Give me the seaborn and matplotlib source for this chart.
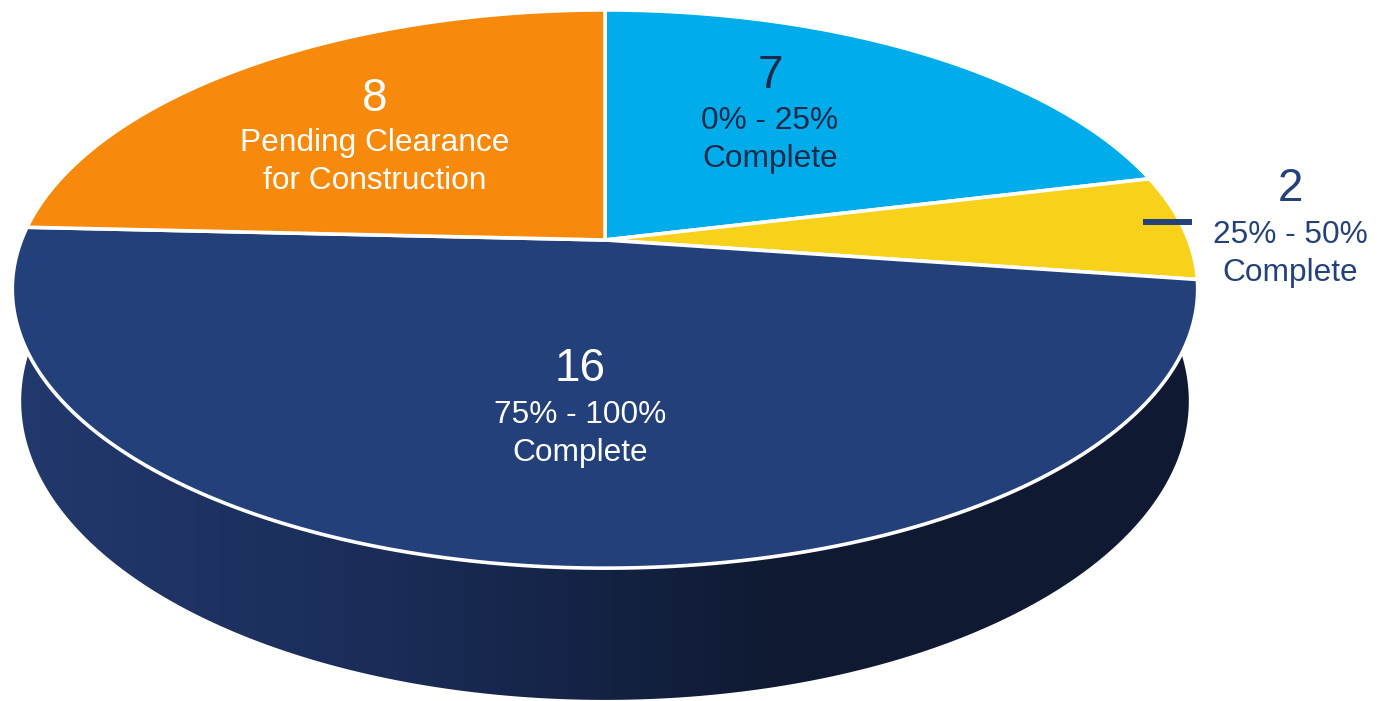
import numpy as np
import seaborn as sns
import matplotlib.pyplot as plt
from matplotlib.patches import Polygon
from matplotlib.colors import LinearSegmentedColormap

# chart data (clockwise from 12 o'clock)
counts = [7, 2, 16, 8]
status = ["0% - 25%\nComplete", "25% - 50%\nComplete",
          "75% - 100%\nComplete", "Pending Clearance\nfor Construction"]
slice_colors = ["#00adea", "#f8d11b", "#23407a", "#f7890c"]
text_colors = ["#1b2a4a", "#24417b", "white", "white"]

sns.set_theme(style="white")
plt.rcParams['font.family'] = ['Liberation Sans', 'DejaVu Sans']
palette = sns.color_palette(slice_colors)

W, H = 1383, 701
fig = plt.figure(figsize=(W / 100, H / 100), dpi=100)
ax = fig.add_axes([0, 0, 1, 1])
ax.set_xlim(0, W)
ax.set_ylim(H, 0)
ax.axis("off")

# perspective projection of the disc
CX, CY, D, F, G, E = 605, 240, 5.69, 3320, 1539, 618


def proj(theta, r=1.0, z=0.0):
    u = r * np.cos(theta)
    v = -r * np.sin(theta)
    s = D - v
    return CX + F * u / s * (1 - 0.015 * z), CY + (G * v + E * z) / s


# side wall with horizontal shading
th = np.radians(np.linspace(12, -192, 400))
tx, ty = proj(th)
bx, by = proj(th, z=1.0)
wall = Polygon(np.column_stack([np.r_[tx, bx[::-1]], np.r_[ty, by[::-1]]]),
               closed=True, facecolor="none", edgecolor="none")
ax.add_patch(wall)
shade = LinearSegmentedColormap.from_list("shade", ["#22396e", "#1a2c57", "#0f1a32"])
xs = np.linspace(0, 1, W)
grad = np.clip((xs * W - 13) / (780 - 13), 0, 1)[None, :]
img = ax.imshow(grad, cmap=shade, extent=[0, W, H, 0], aspect="auto", zorder=1)
img.set_clip_path(wall)

# top face slices
total = sum(counts)
start = 90.0
for i, c in enumerate(counts):
    sweep = 360.0 * c / total
    a = np.radians(np.linspace(start, start - sweep, 200))
    px, py = proj(a)
    pts = np.column_stack([np.r_[CX, px], np.r_[CY, py]])
    ax.add_patch(Polygon(pts, closed=True, facecolor=palette[i], edgecolor="white",
                         linewidth=2.6, joinstyle="round", zorder=2))
    start -= sweep

# labels (cap-centre positions in pixels)
label_pos = [(770, 72, 118), (1290, 185, 232), (580, 365, 412), (375, 95, 140)]
num_pt, sub_pt = 33, 22.8
line_gap = 38


def put(x, yc, s, pt, color):
    px_size = pt * 100 / 72
    ax.text(x, yc + 0.358 * px_size, s, fontsize=pt, color=color,
            ha="center", va="baseline", zorder=4)


for i, c in enumerate(counts):
    x, yn, ys = label_pos[i]
    put(x, yn, str(c), num_pt, text_colors[i])
    for k, line in enumerate(status[i].split("\n")):
        put(x, ys + k * line_gap, line, sub_pt, text_colors[i])

# leader line for the small slice
ax.plot([1143, 1192], [222, 222], color="#24417b", lw=4.3,
        solid_capstyle="butt", zorder=4)

fig.savefig("out.png", dpi=100, facecolor="white")
